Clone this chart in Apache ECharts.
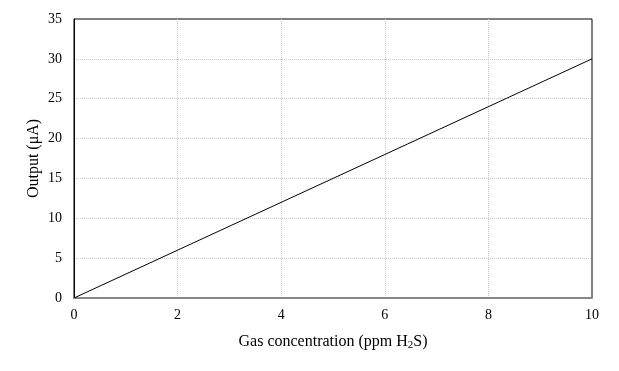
<!DOCTYPE html>
<html><head><meta charset="utf-8">
<script src="https://cdn.jsdelivr.net/npm/echarts@6/dist/echarts.min.js"></script>
<style>html,body{margin:0;padding:0;background:#fff}#c{width:619px;height:371px}</style>
</head><body><div id="c"></div>
<script>
var concentration = [0, 2, 4, 6, 8, 10];
var output = [0, 6, 12, 18, 24, 30];
var xTicks = [0, 2, 4, 6, 8, 10];
var yTicks = [0, 5, 10, 15, 20, 25, 30, 35];

var chart = echarts.init(document.getElementById('c'));
var font = '"Liberation Serif", "Times New Roman", serif';
var split = {show: true, showMinLine: false, showMaxLine: false, lineStyle: {color: '#ccc', type: 'dotted', width: 1}};
chart.setOption({
  animation: false,
  grid: {left: 74, right: 27, top: 19, bottom: 73, show: true, borderColor: '#000', borderWidth: 1},
  xAxis: {
    type: 'value', min: 0, max: 10, interval: 2,
    name: '{t|Gas concentration (ppm H}{s|2}{t|S)}',
    nameLocation: 'middle', nameGap: 34, nameMoveOverlap: false,
    nameTextStyle: {rich: {t: {fontFamily: font, fontSize: 16, color: '#000'}, s: {fontFamily: font, fontSize: 11, color: '#000', verticalAlign: 'bottom', padding: [8, 0, 0, 0]}}},
    axisLine: {show: true, lineStyle: {color: '#888', width: 2}},
    axisTick: {show: false},
    axisLabel: {fontFamily: font, fontSize: 14, color: '#000', margin: 10},
    splitLine: split
  },
  yAxis: {
    type: 'value', min: 0, max: 35, interval: 5,
    name: 'Output (μA)', nameLocation: 'middle', nameGap: 32, nameMoveOverlap: false,
    nameTextStyle: {fontFamily: font, fontSize: 16, color: '#000'},
    axisLine: {show: true, lineStyle: {color: '#000', width: 1}},
    axisTick: {show: false},
    axisLabel: {fontFamily: font, fontSize: 14, color: '#000', margin: 12},
    splitLine: split
  },
  series: [{
    type: 'line',
    data: concentration.map(function (x, i) { return [x, output[i]]; }),
    showSymbol: false, symbol: 'none',
    lineStyle: {color: '#000', width: 1}
  }]
});
</script></body></html>
